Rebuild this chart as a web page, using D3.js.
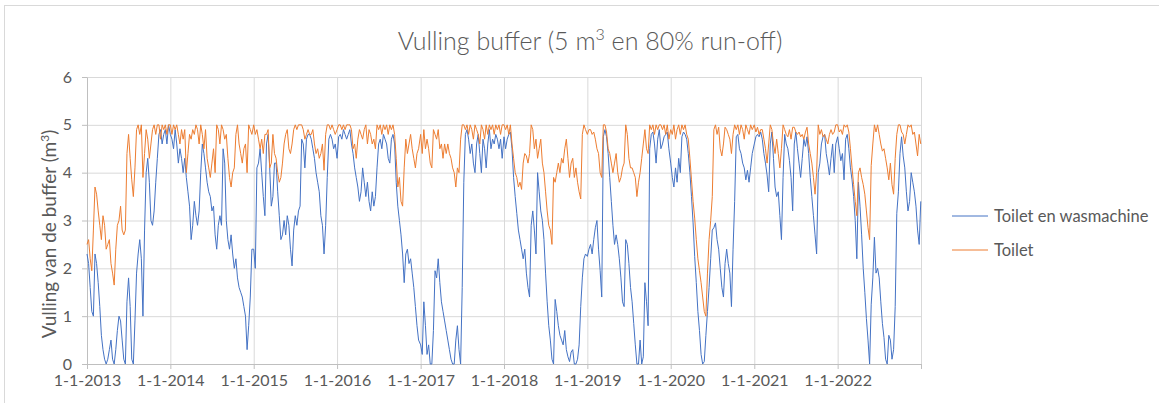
<!DOCTYPE html>
<html lang="nl">
<head>
  <meta charset="UTF-8">
  <title>Vulling buffer</title>
  <script src="https://d3js.org/d3.v7.min.js"></script>
  <style>
    body {
      margin: 0;
      background: #fff;
      font-family: Lato, "Liberation Sans", sans-serif;
    }
    .grid line { stroke: #d9d9d9; stroke-width: 1px; }
    .grid .domain { display: none; }
    .axis text { fill: #595959; font-size: 16px; font-family: Lato, sans-serif; }
    .axis line, .axis path { stroke: #bfbfbf; }
    .line { fill: none; stroke-width: 1px; }
  </style>
</head>
<body>
  <svg id="chart" width="1159" height="403"></svg>
  <script>
    // weekly readings (m3), one array per year, starting 1 January
    const years = [2013, 2014, 2015, 2016, 2017, 2018, 2019, 2020, 2021, 2022];
    const yTicks = [0, 1, 2, 3, 4, 5, 6];
    const seriesNames = ["Toilet en wasmachine", "Toilet"];

    // Toilet en wasmachine
    const tw2013 = [2.3,2.1,1.6,1.1,1.0,2.3,2.1,1.7,1.2,0.6, 0.3,0.1,0,0.1,0.3,0.5,0.1,0,0.3,0.7, 1.0,0.9,0.5,0.1,0,1.3,1.8,1.2,0.1,0, 0.9,1.9,2.3,2.6,2.2,1.0,2.8,4.0,4.3,3.8, 3.0,2.9,3.2,3.8,4.3,4.8,4.9,4.6,4.8,4.9, 4.6,5.0];
    const tw2014 = [4.8,4.7,4.5,4.9,4.6,4.2,4.5,4.3,4.0,4.3, 3.9,3.6,3.3,2.6,2.9,3.4,3.1,2.9,3.2,4.0, 4.6,4.4,4.1,3.8,3.6,3.5,3.2,3.3,2.7,2.4, 2.9,3.1,2.9,4.5,4.2,3.0,2.6,2.4,2.7,2.3, 2.0,2.2,1.8,1.6,1.5,1.4,1.2,1.0,0.3,0.8, 1.4,2.4];
    const tw2015 = [2.4,2.0,4.1,4.2,4.5,4.0,3.5,3.1,4.6,4.8, 4.1,3.3,3.5,4.2,4.2,3.6,3.1,2.6,2.7,3.0, 2.7,3.1,2.9,2.4,2.05,2.8,3.1,2.9,3.2,3.3, 4.7,4.6,4.1,4.7,4.8,4.8,4.7,4.5,4.3,4.0, 3.8,3.6,3.1,2.9,2.3,2.9,3.9,4.7,4.8,4.7, 4.5,4.6];
    const tw2016 = [4.3,4.75,4.8,4.7,4.9,4.8,4.7,4.8,4.9,4.6, 4.4,4.1,3.9,3.7,3.4,3.6,4.1,3.8,3.5,3.8, 3.4,3.2,3.6,3.3,3.5,4.1,4.6,4.7,4.5,4.8, 4.7,4.6,4.3,4.2,4.7,4.8,4.6,3.8,3.3,3.0, 2.7,2.3,1.7,2.3,2.4,2.1,2.2,1.9,1.6,1.2, 0.8,0.5];
    const tw2017 = [0.4,0.2,1.3,0.8,0.2,0.4,0,0,0.7,1.95, 1.8,2.2,1.7,1.3,1.1,0.9,0.7,0.5,0.3,0.1, 0,0,0.5,0.8,0.3,0,1.6,3.8,4.8,4.9, 4.7,4.4,4.6,4.2,4.0,4.6,4.8,4.4,4.0,4.7, 4.5,4.1,4.6,4.9,4.5,4.7,4.6,4.8,4.7,4.5, 4.7,4.3];
    const tw2018 = [4.75,4.5,4.7,4.8,4.85,4.5,3.9,3.5,3.15,2.8, 2.6,2.4,2.2,2.4,1.9,1.6,1.4,2.9,3.2,2.8, 2.3,4.0,3.6,3.2,3.0,2.6,1.9,1.3,0.8,0.5, 0.1,0,1.35,1.1,0.8,0.6,0.5,0.4,0.7,0.3, 0.15,0.05,0.25,0.3,0,0,0.1,0.4,1.2,1.8, 2.2,2.3];
    const tw2019 = [2.25,2.4,2.5,2.3,2.6,2.85,3.0,2.4,1.95,1.4, 4.75,4.9,4.75,4.4,3.9,3.4,2.9,2.5,2.7,2.5, 2.2,1.8,1.3,1.2,2.6,2.5,2.1,1.6,1.3,0.85, 0.4,0,0,0.5,0,0.15,1.7,1.3,0.8,4.5, 4.8,4.85,4.6,4.2,4.7,4.9,4.5,4.6,4.75,4.8, 4.85,4.5];
    const tw2020 = [4.2,3.9,3.7,4.1,3.8,4.3,4.0,4.75,4.85,4.8, 4.7,4.4,4.0,3.5,2.95,2.25,1.7,1.1,0.7,0.2, 0,0.05,0.6,1.1,1.6,2.2,2.8,2.85,2.95,2.6, 2.4,2.0,1.6,1.4,2.1,2.4,2.1,1.9,1.2,2.4, 3.4,4.75,4.8,4.5,4.4,4.2,4.1,3.85,4.05,3.8, 4.1,4.4];
    const tw2021 = [4.6,4.75,4.8,4.75,4.85,4.7,4.4,4.2,3.95,3.6, 4.6,4.85,4.3,3.7,3.5,3.6,3.1,2.6,3.9,4.8, 4.6,4.5,4.25,3.9,3.2,4.6,4.85,4.5,4.2,3.9, 4.3,4.7,4.55,4.75,4.4,3.9,3.5,3.1,2.7,2.3, 4.0,4.2,4.6,4.75,4.8,4.4,4.2,3.95,4.3,4.6, 4.0,4.6];
    const tw2022 = [4.75,4.5,4.25,4.4,3.85,4.7,4.8,4.5,4.1,3.85, 3.5,3.0,2.2,3.8,3.3,2.7,2.0,1.5,0.95,0.5, 0,1.25,1.8,2.65,1.9,2.0,1.8,1.3,0.85,0.55, 0.1,0,0.6,0.5,0.1,0.3,1.2,3.15,3.6,4.4, 4.75,4.35,4.1,3.6,3.2,3.4,4.0,3.8,3.6,3.3, 2.8,2.5,3.4];

    // Toilet
    const t2013 = [2.5,2.6,2.2,1.95,2.8,3.7,3.55,3.2,2.9,2.6, 3.1,2.9,2.4,2.5,2.6,2.1,1.9,1.65,2.4,2.9, 3.0,3.3,2.8,2.7,2.8,4.4,4.8,4.3,3.85,3.5, 4.1,4.9,5.0,4.8,5.0,3.9,4.4,4.9,4.7,4.3, 4.6,4.9,5.0,4.8,5.0,5.0,4.7,5.0,4.9,5.0, 4.8,5.0];
    const t2014 = [5.0,4.8,5.0,4.9,5.0,4.8,4.6,4.9,4.7,4.9, 4.0,4.4,4.8,4.7,4.9,4.8,5.0,4.9,4.6,5.0, 4.8,4.5,4.9,4.3,4.1,3.9,4.2,4.5,4.0,5.0, 4.9,4.6,5.0,4.9,4.7,4.8,4.3,3.9,3.7,4.0, 4.1,4.8,5.0,4.6,4.4,4.2,4.5,4.6,4.0,5.0, 4.9,4.8];
    const t2015 = [5.0,4.8,4.9,4.7,4.5,4.7,4.4,4.8,4.8,4.9, 4.1,4.2,4.8,4.4,4.3,4.0,3.8,3.9,4.2,4.6, 4.8,4.9,4.5,4.4,4.6,4.9,5.0,4.9,5.0,5.0, 5.0,4.9,4.7,4.8,4.9,4.8,4.8,4.9,4.6,4.4, 4.5,4.3,4.4,4.6,4.05,4.8,5.0,5.0,4.9,5.0, 4.9,4.8];
    const t2016 = [4.9,5.0,5.0,4.9,5.0,4.9,5.0,5.0,5.0,4.9, 4.5,4.6,4.3,4.7,4.9,4.8,4.7,4.9,5.0,4.6, 4.9,4.8,4.6,4.7,4.5,5.0,4.9,5.0,4.8,5.0, 4.9,5.0,4.8,5.0,4.9,5.0,4.8,4.3,3.7,3.9, 3.4,3.3,4.1,4.7,4.4,4.6,4.8,4.5,4.3,4.1, 4.4,4.5];
    const t2017 = [4.8,4.4,4.9,4.5,4.7,4.5,4.2,4.1,4.9,4.8, 4.7,4.9,4.5,4.6,4.3,4.6,4.4,4.6,4.4,4.3, 4.1,4.0,3.7,4.1,4.0,4.7,5.0,5.0,4.9,5.0, 4.8,5.0,4.9,4.7,5.0,4.9,4.8,4.6,5.0,4.9, 4.7,5.0,4.8,5.0,4.9,5.0,4.8,5.0,4.9,5.0, 4.8,5.0];
    const t2018 = [5.0,4.9,5.0,4.8,5.0,4.6,4.3,4.0,3.9,3.7, 3.8,3.65,4.2,4.4,4.35,4.2,4.4,5.0,4.9,4.5, 4.7,4.3,4.5,4.7,4.2,4.0,3.6,3.2,2.9,2.8, 2.5,3.9,3.8,4.0,4.2,4.0,4.3,4.2,4.5,4.7, 4.3,3.9,4.2,4.3,3.9,4.1,3.8,3.6,3.45,4.8, 5.0,4.9];
    const t2019 = [4.8,4.9,4.9,4.8,4.85,4.7,4.5,4.4,4.0,3.9, 5.0,5.0,4.85,4.5,4.4,4.2,4.0,4.2,4.4,4.0, 3.8,3.9,4.1,4.2,5.0,4.8,4.3,4.1,4.1,4.0, 3.9,3.5,3.8,4.0,4.3,4.6,4.9,4.5,4.4,5.0, 4.9,5.0,4.8,5.0,4.9,5.0,5.0,4.9,5.0,4.8, 5.0,4.7];
    const t2020 = [4.9,4.8,5.0,4.7,4.9,5.0,4.8,5.0,4.9,5.0, 4.8,4.7,4.3,3.85,3.4,3.05,2.6,2.2,1.95,1.7, 1.4,1.1,1.0,1.9,2.6,3.0,3.5,4.9,5.0,4.8, 4.95,4.5,4.35,4.6,4.95,4.9,4.8,4.7,4.4,4.8, 5.0,4.9,5.0,4.8,5.0,4.9,4.7,5.0,4.9,4.8, 5.0,4.9];
    const t2021 = [5.0,4.85,4.95,4.8,4.9,4.9,4.7,4.5,4.2,4.6, 5.0,4.9,4.6,4.4,4.7,4.4,4.1,4.5,5.0,4.9, 4.8,4.75,4.9,4.7,4.95,4.95,4.85,4.8,4.85,4.75, 4.8,4.7,4.85,4.95,4.6,4.4,4.2,3.9,3.55,4.0, 5.0,4.8,4.9,4.75,4.8,4.7,4.6,4.8,4.9,4.8, 4.85,5.0];
    const t2022 = [5.0,4.85,4.9,4.8,5.0,4.95,5.0,4.85,4.5,4.1, 3.75,3.4,3.1,4.0,4.1,3.9,3.75,3.55,3.2,2.85, 2.6,4.15,4.6,5.0,4.85,5.0,4.8,4.6,4.45,4.5, 4.3,4.1,3.85,4.2,3.75,3.55,4.3,4.8,5.0,5.0, 4.85,4.8,4.6,4.8,5.0,4.95,5.0,4.8,4.85,4.6, 4.35,4.8,4.6];

    const toiletWas = [tw2013, tw2014, tw2015, tw2016, tw2017, tw2018, tw2019, tw2020, tw2021, tw2022];
    const toilet = [t2013, t2014, t2015, t2016, t2017, t2018, t2019, t2020, t2021, t2022];

    const margin = { top: 77, right: 238, bottom: 39, left: 87 },
          width = 1159 - margin.left - margin.right,
          height = 403 - margin.top - margin.bottom;

    const root = d3.select("#chart");

    // chart border (only top and left visible in the picture)
    root.append("rect")
      .attr("x", 4.5).attr("y", 5.5)
      .attr("width", 1200).attr("height", 450)
      .attr("fill", "none")
      .attr("stroke", "#d9d9d9");

    const svg = root.append("g")
      .attr("transform", `translate(${margin.left},${margin.top})`);

    const toPoints = arrays => arrays.flatMap((vals, k) =>
      vals.map((v, i) => ({ date: new Date(years[k], 0, 1 + 7 * i), value: v })));

    const series = [
      { name: seriesNames[0], color: "#4472c4", values: toPoints(toiletWas) },
      { name: seriesNames[1], color: "#ed7d31", values: toPoints(toilet) }
    ];

    const yearDates = years.map(y => new Date(y, 0, 1)).concat([new Date(2023, 0, 1)]);

    const xScale = d3.scaleTime()
      .domain([new Date(2013, 0, 1), new Date(2023, 0, 1)])
      .range([0, width]);

    const yScale = d3.scaleLinear()
      .domain([0, 6])
      .range([height, 0]);

    // gridlines
    svg.append("g")
      .attr("class", "grid")
      .call(d3.axisLeft(yScale).tickValues(yTicks).tickSize(-width).tickFormat(""));

    svg.append("g")
      .attr("class", "grid")
      .call(d3.axisBottom(xScale).tickValues(yearDates).tickSize(height).tickFormat(""));

    // axes
    svg.append("g")
      .attr("class", "axis")
      .call(d3.axisLeft(yScale).tickValues(yTicks).tickSize(5).tickPadding(10).tickSizeOuter(0)
        .tickFormat(d3.format("d")));

    const fmt = d3.timeFormat("%-d-%-m-%Y");
    const xAxis = svg.append("g")
      .attr("class", "axis")
      .attr("transform", `translate(0,${height})`)
      .call(d3.axisBottom(xScale).tickValues(yearDates).tickSize(5).tickPadding(6).tickSizeOuter(0)
        .tickFormat(d => d.getFullYear() === 2023 ? "" : fmt(d)));

    xAxis.select(".domain").attr("stroke", "#d9d9d9");

    // lines
    const line = d3.line()
      .x(d => xScale(d.date))
      .y(d => yScale(d.value));

    svg.selectAll(".line")
      .data(series)
      .enter()
      .append("path")
      .attr("class", "line")
      .attr("d", d => line(d.values))
      .attr("stroke", d => d.color);

    // title
    const title = root.append("text")
      .attr("x", 590)
      .attr("y", 50)
      .attr("text-anchor", "middle")
      .attr("fill", "#595959")
      .attr("font-size", "25px")
      .attr("font-weight", 300);
    title.append("tspan").text("Vulling buffer (5 m");
    title.append("tspan").attr("dy", -10).attr("font-size", "16px").text("3");
    title.append("tspan").attr("dy", 10).text(" en 80% run-off)");

    // y axis label
    const ylab = root.append("text")
      .attr("transform", "translate(56,234) rotate(-90)")
      .attr("text-anchor", "middle")
      .attr("fill", "#595959")
      .attr("font-size", "19px");
    ylab.append("tspan").text("Vulling van de buffer (m");
    ylab.append("tspan").attr("dy", -7).attr("font-size", "12px").text("3");
    ylab.append("tspan").attr("dy", 7).text(")");

    // legend
    const legend = root.append("g")
      .attr("transform", "translate(952, 216)");

    series.forEach((s, i) => {
      const row = legend.append("g")
        .attr("transform", `translate(0, ${i * 34})`);
      row.append("line")
        .attr("x1", 0).attr("x2", 36)
        .attr("stroke", s.color)
        .attr("stroke-width", 1);
      row.append("text")
        .attr("x", 42)
        .attr("y", 6)
        .attr("fill", "#595959")
        .attr("font-size", "16.5px")
        .text(s.name);
    });
  </script>
</body>
</html>
